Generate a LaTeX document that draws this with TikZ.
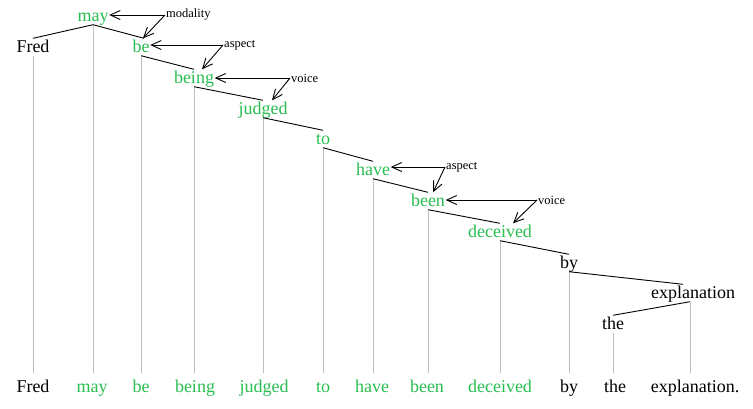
\documentclass[tikz,border=0pt]{standalone}
\usepackage{fontspec}
\setmainfont{Liberation Serif}
\usetikzlibrary{arrows.meta}
\definecolor{auxgreen}{RGB}{40,190,80}

\begin{document}
\begin{tikzpicture}[x=1pt,y=-1pt,
    word/.style={font=\fontsize{18}{20}\selectfont,text height=13pt,text depth=3pt,inner sep=0.5pt,anchor=base},
    aux/.style={word,text=auxgreen},
    feat/.style={font=\fontsize{12.5}{14}\selectfont,inner sep=1pt,anchor=west},
    dep/.style={black,line width=0.9pt},
    proj/.style={black!25,line width=0.9pt,shorten >=5pt},
    tag/.style={-{Straight Barb[length=10pt,width=9pt]},line width=0.9pt}]
    \useasboundingbox (0,0) rectangle (753,408);
    % tree
    \node[aux]  (may)      at (93,21)   {may};
    \node[word] (fred)     at (33,52)   {Fred};
    \node[aux]  (be)       at (141,52)  {be};
    \node[aux]  (being)    at (194,83)  {being};
    \node[aux]  (judged)   at (263,114) {judged};
    \node[aux]  (to)       at (323,144) {to};
    \node[aux]  (have)     at (373,175) {have};
    \node[aux]  (been)     at (428,206) {been};
    \node[aux]  (deceived) at (500,237) {deceived};
    \node[word] (by)       at (569,268) {by};
    \node[word] (expl)     at (693,298) {explanation};
    \node[word] (the)      at (613,329) {the};
    % sentence
    \node[word] (w_fred)     at (33,392)  {Fred};
    \node[aux]  (w_may)      at (92,392)  {may};
    \node[aux]  (w_be)       at (141,392) {be};
    \node[aux]  (w_being)    at (195,392) {being};
    \node[aux]  (w_judged)   at (264,392) {judged};
    \node[aux]  (w_to)       at (323,392) {to};
    \node[aux]  (w_have)     at (372,392) {have};
    \node[aux]  (w_been)     at (427,392) {been};
    \node[aux]  (w_deceived) at (500,392) {deceived};
    \node[word] (w_by)       at (569,392) {by};
    \node[word] (w_the)      at (615,392) {the};
    \node[word] (w_expl)     at (695,392) {explanation.};
    % projection lines
    \foreach \t/\w in {fred/w_fred,may/w_may,be/w_be,being/w_being,judged/w_judged,
        to/w_to,have/w_have,been/w_been,deceived/w_deceived,by/w_by,the/w_the}
      \draw[proj] (\t.south) -- (\t.south |- \w.north);
    \draw[proj] ([xshift=-3pt]expl.south) -- ([xshift=-3pt]expl.south |- w_expl.north);
    % dependencies
    \draw[dep] (may.south) -- (fred.north);
    \draw[dep] (may.south) -- ([xshift=3pt]be.north);
    \draw[dep] (be.south) -- (being.north);
    \draw[dep] (being.south) -- (judged.north);
    \draw[dep] (judged.south) -- (to.north);
    \draw[dep] (to.south) -- (have.north);
    \draw[dep] (have.south) -- (been.north);
    \draw[dep] (been.south) -- (deceived.north);
    \draw[dep] (deceived.south) -- (by.north);
    \draw[dep] (by.south) -- ([xshift=-10pt]expl.north);
    \draw[dep] ([xshift=-3pt]expl.south) -- (the.north);
    % features
    \node[feat] (mod)  at (165,15)  {modality};
    \node[feat] (asp1) at (223,45)  {aspect};
    \node[feat] (voi1) at (290,78)  {voice};
    \node[feat] (asp2) at (445,167) {aspect};
    \node[feat] (voi2) at (537,200) {voice};
    \draw[tag] (mod.west) -- (may.east |- mod.west);
    \draw[tag] (mod.west) -- ([xshift=2pt]be.north);
    \draw[tag] (asp1.west) -- (be.east |- asp1.west);
    \draw[tag] (asp1.west) -- ([xshift=8pt]being.north);
    \draw[tag] (voi1.west) -- (being.east |- voi1.west);
    \draw[tag] (voi1.west) -- ([xshift=9pt]judged.north);
    \draw[tag] (asp2.west) -- (have.east |- asp2.west);
    \draw[tag] (asp2.west) -- ([xshift=5pt]been.north);
    \draw[tag] (voi2.west) -- (been.east |- voi2.west);
    \draw[tag] (voi2.west) -- ([xshift=13pt]deceived.north);
\end{tikzpicture}
\end{document}
